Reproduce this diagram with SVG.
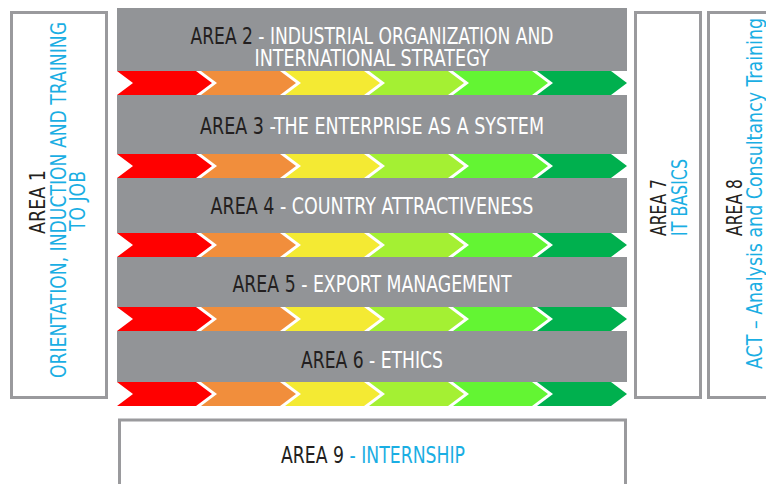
<svg xmlns="http://www.w3.org/2000/svg" xmlns:xlink="http://www.w3.org/1999/xlink" width="766" height="484" viewBox="0 0 766 484">
<style>
.bar{fill:#929497}
.box{fill:#ffffff;stroke:#9a9a9d;stroke-width:3}
.t{font-family:'Liberation Sans Narrow','DejaVu Sans Condensed','Roboto','Liberation Sans',sans-serif;font-size:22.5px}
.tv{font-family:'Liberation Sans Narrow','DejaVu Sans Condensed','Roboto','Liberation Sans',sans-serif;font-size:21.5px}
.k{fill:#231f20}
.w{fill:#ffffff}
.b{fill:#1aaee3}
</style>
<defs>
<g id="strip">
<polygon fill="#ff0000" points="117,0 196,0 212,12 196,24 117,24 133,12"/>
<polygon fill="#f18e3c" points="201,0 280,0 296,12 280,24 201,24 217,12"/>
<polygon fill="#f4ea33" points="285,0 364,0 380,12 364,24 285,24 301,12"/>
<polygon fill="#a4f033" points="369,0 448,0 464,12 448,24 369,24 385,12"/>
<polygon fill="#63f533" points="453,0 532,0 548,12 532,24 453,24 469,12"/>
<polygon fill="#00b04e" points="537,0 611,0 627,12 611,24 537,24 553,12"/>
</g>
</defs>

<g id="area1">
<rect class="box" x="11.5" y="12.5" width="95" height="385"/>
<text class="tv k" transform="translate(45,202) rotate(-90)" text-anchor="middle" textLength="64" lengthAdjust="spacingAndGlyphs">AREA 1</text>
<text class="tv b" transform="translate(66,200) rotate(-90)" text-anchor="middle" textLength="356" lengthAdjust="spacingAndGlyphs">ORIENTATION, INDUCTION AND TRAINING</text>
<text class="tv b" transform="translate(85,201) rotate(-90)" text-anchor="middle" textLength="60" lengthAdjust="spacingAndGlyphs">TO JOB</text>
</g>

<g id="area2">
<rect class="bar" x="117" y="8" width="510" height="63"/>
<text class="t" x="372" y="44" text-anchor="middle" textLength="363" lengthAdjust="spacingAndGlyphs"><tspan class="k">AREA 2</tspan><tspan class="w"> - INDUSTRIAL ORGANIZATION AND</tspan></text>
<text class="t w" x="372" y="66" text-anchor="middle" textLength="235" lengthAdjust="spacingAndGlyphs">INTERNATIONAL STRATEGY</text>
</g>

<g id="area3">
<rect class="bar" x="117" y="95" width="510" height="59"/>
<text class="t" x="372" y="134" text-anchor="middle" textLength="344" lengthAdjust="spacingAndGlyphs"><tspan class="k">AREA 3</tspan><tspan class="w"> -THE ENTERPRISE AS A SYSTEM</tspan></text>
</g>

<g id="area4">
<rect class="bar" x="117" y="178" width="510" height="55"/>
<text class="t" x="372" y="214" text-anchor="middle" textLength="323" lengthAdjust="spacingAndGlyphs"><tspan class="k">AREA 4</tspan><tspan class="w"> - COUNTRY ATTRACTIVENESS</tspan></text>
</g>

<g id="area5">
<rect class="bar" x="117" y="257" width="510" height="50"/>
<text class="t" x="372" y="292" text-anchor="middle" textLength="279" lengthAdjust="spacingAndGlyphs"><tspan class="k">AREA 5</tspan><tspan class="w"> - EXPORT MANAGEMENT</tspan></text>
</g>

<g id="area6">
<rect class="bar" x="117" y="331" width="510" height="51"/>
<text class="t" x="372" y="368" text-anchor="middle" textLength="142" lengthAdjust="spacingAndGlyphs"><tspan class="k">AREA 6</tspan><tspan class="w"> - ETHICS</tspan></text>
</g>

<g id="connectors">
<use xlink:href="#strip" href="#strip" y="71"/>
<use xlink:href="#strip" href="#strip" y="154"/>
<use xlink:href="#strip" href="#strip" y="233"/>
<use xlink:href="#strip" href="#strip" y="307"/>
<use xlink:href="#strip" href="#strip" y="382"/>
</g>

<g id="area7">
<rect class="box" x="635.5" y="12.5" width="65" height="385"/>
<text class="tv k" transform="translate(666,236) rotate(-90)" textLength="57" lengthAdjust="spacingAndGlyphs">AREA 7</text>
<text class="tv b" transform="translate(687,236) rotate(-90)" textLength="77" lengthAdjust="spacingAndGlyphs">IT BASICS</text>
</g>

<g id="area8">
<rect class="box" x="708.5" y="12.5" width="62" height="385"/>
<text class="tv k" transform="translate(742,236) rotate(-90)" textLength="57" lengthAdjust="spacingAndGlyphs">AREA 8</text>
<text class="tv b" transform="translate(762,369) rotate(-90)" textLength="351" lengthAdjust="spacingAndGlyphs">ACT – Analysis and Consultancy Training</text>
</g>

<g id="area9">
<rect class="box" x="119.5" y="420" width="506" height="70"/>
<text class="t" x="373" y="463" text-anchor="middle" textLength="184" lengthAdjust="spacingAndGlyphs"><tspan class="k">AREA 9</tspan><tspan class="b"> - INTERNSHIP</tspan></text>
</g>
</svg>
